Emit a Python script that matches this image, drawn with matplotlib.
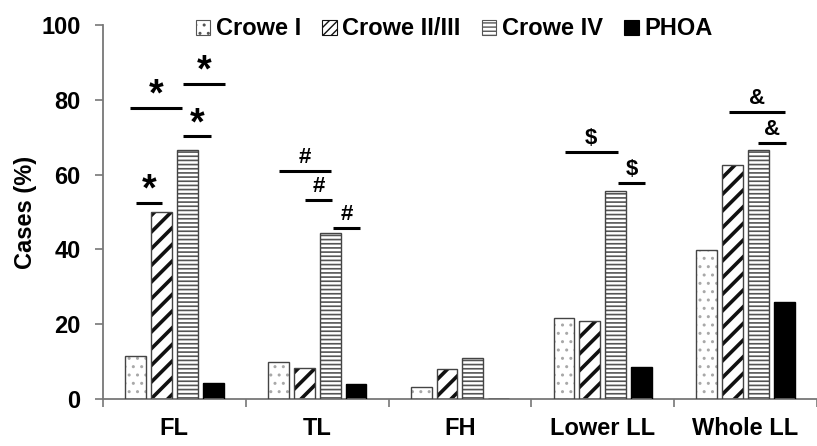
import matplotlib
matplotlib.use("Agg")
import matplotlib.pyplot as plt
import numpy as np
from matplotlib.patches import Patch

categories = ["FL", "TL", "FH", "Lower LL", "Whole LL"]
series = ["Crowe I", "Crowe II/III", "Crowe IV", "PHOA"]
crowe1 = [11.6, 10.0, 3.2, 21.7, 39.9]
crowe23 = [50.0, 8.3, 8.0, 20.8, 62.5]
crowe4 = [66.7, 44.4, 11.0, 55.6, 66.7]
phoa = [4.3, 4.1, 0.0, 8.6, 26.1]
yticks = [0, 20, 40, 60, 80, 100]

# significance annotations: (category index, start offset, end offset, y level, symbol)
annotations = [
    (0, -0.308, 0.056, 77.8, "*"),
    (0, 0.063, 0.354, 84.2, "*"),
    (0, 0.063, 0.257, 70.2, "*"),
    (0, -0.271, -0.083, 52.4, "*"),
    (1, -0.264, 0.097, 61.0, "#"),
    (1, -0.083, 0.104, 53.2, "#"),
    (1, 0.111, 0.299, 45.8, "#"),
    (3, -0.264, 0.104, 66.1, "$"),
    (3, 0.109, 0.299, 57.7, "$"),
    (4, -0.118, 0.278, 76.8, "&"),
    (4, 0.090, 0.285, 68.4, "&"),
]

plt.rcParams['font.family'] = ['Liberation Sans', 'DejaVu Sans']
plt.rcParams['font.weight'] = 'bold'

fig = plt.figure(figsize=(8.17, 4.46), dpi=100)
ax = fig.add_axes([0.126, 0.105, 0.874, 0.839])

values = [crowe1, crowe23, crowe4, phoa]
hatches = ["..", "//", "----", ""]
hatch_colors = ["#a8a8a8", "#111111", "#555555", "black"]
hatch_lws = [1.0, 2.6, 1.2, 1.0]
faces = ["white", "white", "white", "black"]
x = np.arange(len(categories))
pitch = 0.181
width = 0.146
handles = []
for i, (vals, h, hc, fc, hl) in enumerate(zip(values, hatches, hatch_colors, faces, hatch_lws)):
    plt.rcParams['hatch.linewidth'] = hl
    pos = x + (i - 1.5) * pitch
    ax.bar(pos, vals, width, color=fc, hatch=h, edgecolor=hc, linewidth=0, zorder=2)
    ax.bar(pos, vals, width, fill=False, edgecolor="#444444" if i < 3 else "black",
           linewidth=1.0, zorder=3)
    plt.rcParams['hatch.linewidth'] = min(hl, 1.0)
    handles.append(Patch(facecolor=fc, hatch=h if i != 1 else "////", edgecolor=hc if i != 0 else "#555555",
                         linewidth=0.8, label=series[i]))

for c, x0, x1, yv, sym in annotations:
    ax.plot([c + x0, c + x1], [yv, yv], color="black", lw=2.2, zorder=4,
            solid_capstyle="butt")
    if sym == "*":
        ax.text(c + (x0 + x1) / 2, yv - 1.5, sym, ha="center", va="bottom",
                fontsize=27, fontweight="bold")
    else:
        ax.text(c + (x0 + x1) / 2, yv + 0.8, sym, ha="center", va="bottom",
                fontsize=16, fontweight="bold")

ax.set_xlim(-0.5, 4.458)
ax.set_ylim(0, 100)
ax.set_yticks(yticks)
ax.set_yticklabels([str(v) for v in yticks], fontsize=17, fontweight="bold")
ax.set_xticks(np.arange(-0.5, 5, 1.0))
ax.set_xticklabels([])
ax.set_xticks(x, minor=True)
ax.set_xticklabels(categories, minor=True, fontsize=17, fontweight="bold")
ax.tick_params(axis="x", which="minor", length=0, pad=13)
ax.tick_params(axis="x", which="major", length=6, color="#777777", width=1.2)
ax.tick_params(axis="y", length=6, color="#777777", width=1.2, pad=10)
ax.set_ylabel("Cases (%)", fontsize=17, fontweight="bold", labelpad=3)
for s in ["top", "right"]:
    ax.spines[s].set_visible(False)
for s in ["left", "bottom"]:
    ax.spines[s].set_color("#777777")
    ax.spines[s].set_linewidth(1.3)

fig.legend(handles=handles, loc="center", bbox_to_anchor=(0.556, 0.935), ncol=4,
           frameon=False, handlelength=0.6, handleheight=0.6,
           handletextpad=0.25, columnspacing=0.9, prop={"weight": "bold", "size": 17})

fig.savefig("out.png", dpi=100)
